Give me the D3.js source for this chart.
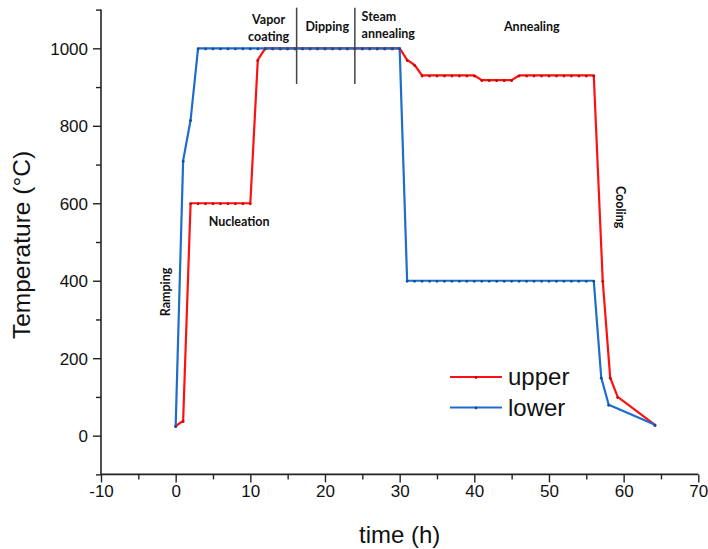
<!DOCTYPE html>
<html>
<head>
<meta charset="utf-8">
<script src="https://cdn.jsdelivr.net/npm/d3@7"></script>
<style>
  html, body { margin: 0; padding: 0; background: #fff; }
  svg { display: block; }
</style>
</head>
<body>
<svg id="chart" width="708" height="549"></svg>
<script>
// ---- data ----
const upperTime = [0, 1, 2, 3, 4, 5, 6, 7, 8, 9, 10, 11, 12, 13, 14, 15, 16, 17, 18, 19, 20, 21, 22, 23, 24, 25, 26, 27, 28, 29, 30,
  31, 32, 33, 34, 35, 36, 37, 38, 39, 40, 41, 42, 43, 44, 45, 46, 47, 48, 49, 50, 51, 52, 53, 54, 55, 56, 57.2, 58.2, 59.2, 64.2];
const upperTemp = [25, 38, 600, 600, 600, 600, 600, 600, 600, 600, 600, 970, 1000, 1000, 1000, 1000, 1000, 1000, 1000, 1000, 1000, 1000, 1000, 1000, 1000, 1000, 1000, 1000, 1000, 1000, 1000,
  970, 957, 930, 930, 930, 930, 930, 930, 930, 930, 918, 918, 918, 918, 918, 930, 930, 930, 930, 930, 930, 930, 930, 930, 930, 930, 400, 150, 100, 28];

const lowerTime = [0, 1, 2, 3, 4, 5, 6, 7, 8, 9, 10, 11, 12, 13, 14, 15, 16, 17, 18, 19, 20, 21, 22, 23, 24, 25, 26, 27, 28, 29, 30,
  31, 32, 33, 34, 35, 36, 37, 38, 39, 40, 41, 42, 43, 44, 45, 46, 47, 48, 49, 50, 51, 52, 53, 54, 55, 56, 57, 58, 64.2];
const lowerTemp = [25, 710, 815, 1000, 1000, 1000, 1000, 1000, 1000, 1000, 1000, 1000, 1000, 1000, 1000, 1000, 1000, 1000, 1000, 1000, 1000, 1000, 1000, 1000, 1000, 1000, 1000, 1000, 1000, 1000, 1000,
  400, 400, 400, 400, 400, 400, 400, 400, 400, 400, 400, 400, 400, 400, 400, 400, 400, 400, 400, 400, 400, 400, 400, 400, 400, 400, 150, 80, 28];

const seriesNames = ["upper", "lower"];
const seriesColors = ["#ff1010", "#1c6dcc"];

const xTicks = [-10, 0, 10, 20, 30, 40, 50, 60, 70];
const yTicks = [0, 200, 400, 600, 800, 1000];

// stage annotations
const stageLabels = ["Vapor\ncoating", "Dipping", "Steam\nannealing", "Annealing", "Nucleation"];
const stageTime = [12.45, 20.3, 24.9, 47.7, 8.5];
const stageTemp = [1063, 1044, 1070, 1045, 541];
const stageAnchor = ["middle", "middle", "start", "middle", "middle"];
const dividerTime = [16.2, 24.0];
const rotatedLabels = ["Ramping", "Cooling"];
const rotatedTime = [-1.4, 59.6];
const rotatedTemp = [371, 590];
const rotatedAngle = [-90, 90];

// ---- drawing ----
const svg = d3.select("#chart");
const x = d3.scaleLinear().domain([-10, 70]).range([101, 698.3]);
const y = d3.scaleLinear().domain([-100, 1100]).range([474.4, 9.6]);

const axisColor = "#222";
const tickFont = "'Liberation Sans', Arial, sans-serif";

// x axis
const gx = svg.append("g").attr("transform", `translate(0,${y(-100)})`);
gx.call(d3.axisBottom(x).tickValues(d3.range(-10, 71, 5)).tickSize(5).tickFormat(""));
gx.call(g => g.selectAll(".tick").filter(d => xTicks.includes(d)).select("line").attr("y2", 8));
gx.selectAll(".tick").filter(d => xTicks.includes(d)).append("text")
  .attr("y", 11).attr("dy", "0.71em").attr("text-anchor", "middle")
  .attr("fill", "#111").style("font-family", tickFont).style("font-size", "17px")
  .text(d => d);
gx.select(".domain").attr("d", `M${x(-10)},0H${x(70)}`);

// y axis
const gy = svg.append("g").attr("transform", `translate(${x(-10)},0)`);
gy.call(d3.axisLeft(y).tickValues(d3.range(-100, 1101, 100)).tickSize(5).tickFormat(""));
gy.call(g => g.selectAll(".tick").filter(d => yTicks.includes(d)).select("line").attr("x2", -8));
gy.selectAll(".tick").filter(d => yTicks.includes(d)).append("text")
  .attr("x", -13).attr("dy", "0.35em").attr("text-anchor", "end")
  .attr("fill", "#111").style("font-family", tickFont).style("font-size", "17px")
  .text(d => d);
gy.select(".domain").attr("d", `M0,${y(-100)}V${y(1100)}`);

svg.selectAll(".domain").attr("stroke", axisColor).attr("stroke-width", 1.6);
svg.selectAll(".tick line").attr("stroke", axisColor).attr("stroke-width", 1.4);

// axis titles
svg.append("text")
  .attr("transform", `translate(21,${(y(-100) + y(1100)) / 2 + 3}) rotate(-90)`)
  .attr("text-anchor", "middle").attr("dy", "0.35em")
  .style("font-family", tickFont).style("font-size", "24.5px").attr("fill", "#111")
  .text("Temperature (°C)");
svg.append("text")
  .attr("x", (x(-10) + x(70)) / 2).attr("y", 543)
  .attr("text-anchor", "middle")
  .style("font-family", tickFont).style("font-size", "24px").attr("fill", "#111")
  .text("time (h)");

// series
const series = [
  { name: seriesNames[0], color: seriesColors[0], pts: upperTime.map((t, i) => [t, upperTemp[i]]) },
  { name: seriesNames[1], color: seriesColors[1], pts: lowerTime.map((t, i) => [t, lowerTemp[i]]) }
];
const line = d3.line().x(d => x(d[0])).y(d => y(d[1]));
series.forEach(s => {
  svg.append("path").datum(s.pts)
    .attr("fill", "none").attr("stroke", s.color).attr("stroke-width", 2.2)
    .attr("stroke-linejoin", "round").attr("d", line);
});
series.forEach(s => {
  svg.append("g").selectAll("circle").data(s.pts).join("circle")
    .attr("cx", d => x(d[0])).attr("cy", d => y(d[1]) + 0.6).attr("r", 1.4)
    .attr("fill", d3.color(s.color).darker(0.9));
});

// stage labels
const annFont = "Lato, 'Open Sans', sans-serif";
stageLabels.forEach((txt, i) => {
  const lines = txt.split("\n");
  const t = svg.append("text")
    .attr("x", x(stageTime[i])).attr("y", y(stageTemp[i]))
    .attr("text-anchor", stageAnchor[i])
    .style("font-family", annFont).style("font-weight", "bold").style("font-size", "12.5px")
    .attr("fill", "#111");
  lines.forEach((l, j) => {
    t.append("tspan").attr("x", x(stageTime[i])).attr("dy", j === 0 ? 0 : "1.35em").text(l);
  });
});
dividerTime.forEach(dt => {
  svg.append("line")
    .attr("x1", x(dt)).attr("x2", x(dt))
    .attr("y1", y(1105)).attr("y2", y(908))
    .attr("stroke", "#444").attr("stroke-width", 1.5);
});
rotatedLabels.forEach((txt, i) => {
  svg.append("text")
    .attr("transform", `translate(${x(rotatedTime[i])},${y(rotatedTemp[i])}) rotate(${rotatedAngle[i]})`)
    .attr("text-anchor", "middle").attr("dy", "0.35em")
    .style("font-family", annFont).style("font-weight", "bold").style("font-size", "12.5px")
    .attr("fill", "#111")
    .text(txt);
});

// legend
const legend = svg.append("g").attr("transform", "translate(450,377)");
series.forEach((s, i) => {
  const g = legend.append("g").attr("transform", `translate(0,${i * 30.5})`);
  g.append("line").attr("x1", 0).attr("x2", 52).attr("y1", 0).attr("y2", 0)
    .attr("stroke", s.color).attr("stroke-width", 2.2);
  g.append("circle").attr("cx", 26).attr("cy", 0.5).attr("r", 1.4).attr("fill", d3.color(s.color).darker(0.9));
  g.append("text").attr("x", 58).attr("y", 0).attr("dy", "0.35em")
    .style("font-family", tickFont).style("font-size", "24px").attr("fill", "#111")
    .text(s.name);
});
</script>
</body>
</html>
